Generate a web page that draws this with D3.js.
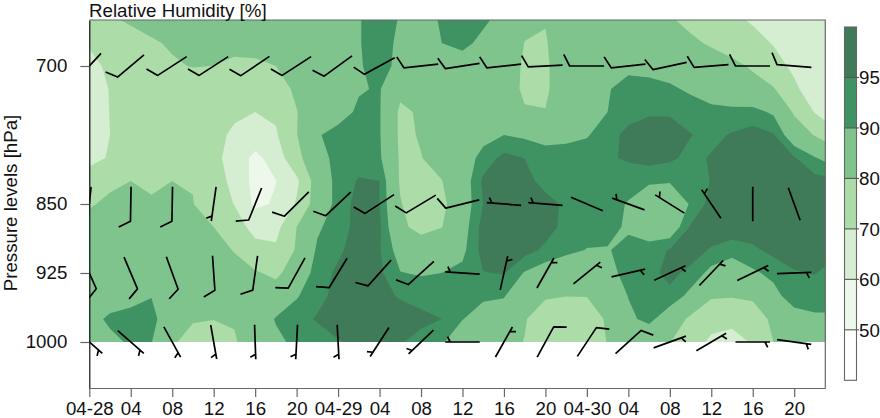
<!DOCTYPE html>
<html><head><meta charset="utf-8">
<script src="https://cdnjs.cloudflare.com/ajax/libs/d3/7.8.5/d3.min.js"></script>
<style>html,body{margin:0;padding:0;background:#fff;overflow:hidden}svg{display:block}text{font-family:"Liberation Sans",Arial,sans-serif;fill:#111}</style>
</head><body><svg id="c" width="880" height="418"></svg>
<script>
// Grid of relative humidity: one row per pressure level, one column per 2 h
const gridHours = d3.range(0, 74, 2);
const gridLevels = d3.range(650, 1025, 25);
const rh650 = [76,79,81,83,84,85,85,85,85,85,85,86,87,89.6,93,89.5,88,90.5,93,91,88,81,80.3,85,85,84,83,82,80.8,78,75,72,69,67,66,65,64];
const rh675 = [71,74,77,79,81,82,83,83,83,84,84,85,87,89.6,93,88.5,88,90,91.5,88.5,84,79.9,79.5,84,85,85,85,84,83,81.5,79,76.5,73,69.5,66,64,63];
const rh700 = [67,72,75,77,79,80.4,79.9,78,78.5,80,82,84,87,89.5,92,88.5,87,87,87,86,84,79,79,84,87,88.5,89,88,87,85,84,82,79,73.5,68,64,62];
const rh725 = [64,70.5,72,73,74,74,74,74,75,77.5,81,84,87,89.5,90.5,82,85.5,85.5,85,84,83,79,79,84,88,89.7,91.5,92,91,89,87,85,83,80.7,72,64,62];
const rh750 = [63,70.3,71,71,71,70.7,70.7,70.3,70,71.5,79.8,84,87.5,91,90.5,78.5,81,84,85,84,83,80.5,80.2,85,88,90,93,94.5,94.5,93,91.5,91.5,92,89,79,69.5,62];
const rh775 = [64,70,71,71,71,71,70.5,69.7,67,69,79.7,89.5,92,92.5,90.5,78.5,80.5,84,86,88,90,89,87.5,88.5,89.5,93,96.5,97,97,95.2,93.5,95.5,97,95.5,85,79.5,73];
const rh800 = [66.5,71,72,73,73.5,73,72,67,57,65,77,88,91.5,92.5,91,79,79.8,83,86.5,92,96.5,94.9,93,92.5,93,94,96,97,96,93.5,95.5,97,97.5,97,95.5,90.5,86];
const rh825 = [76,78,80,78.5,80,79.7,75,67,57,59.8,68,85,92,95.5,95,79,76,79.8,86,96,98,97,93,91.5,91,91,91,91,90.5,91,95.3,97,98,98,98,97,96];
const rh850 = [79,82,84,81,80.8,80.2,75,69.7,58,61,71,85,92,97,95,80.5,75,78,86,95,98,98,97,94,92.5,91,89.8,85,85,90.5,97,98,98.5,98.5,98.5,98,97];
const rh875 = [84,85,85,85,84,83,80,74,67,67,80,89,93,96.5,96,82,77,79.8,87,97,98,98,97,93.5,92,91,89.5,85,85,95.5,98,98,98,98,98,98,97];
const rh900 = [86,86,86,85.5,85,84,82,79.7,73,71.5,81,91,94,97.5,95.5,87,86,86,88.5,97,98.5,97,94,91.5,89.8,89.8,91,93,95.3,97,94.5,92.5,94,96.5,98,97.5,96];
const rh925 = [85,85,85.5,85.5,85,85,84,82,81,78,85,92.5,96,97.5,96,90.2,89.5,90,91.5,94.8,95.3,89.5,86.5,85,85,88,92,94,96,94,88,85,89,91.5,94.5,95.2,93];
const rh950 = [84,85.5,87,89.8,88,85.5,84,83,83,85,89.5,93.5,96.5,97,96.5,94.5,93,92.5,92,91,90.5,83,80.8,80.1,80.2,84,90.2,94,94,88,81,80.6,81.5,88,93,93,93];
const rh975 = [87,91.5,93,92,85,80.7,80.2,80.6,85,90.5,93,95.5,97,98,98,97.5,96.5,95,90.2,87,85.5,80.5,76,74,76,81,88.5,92,85,78.5,73,73,75,82,87,88.8,88.8];
const rh1000 = [85,88,91,90.2,81,77,75,79.3,84,88.5,91.5,92.5,94.7,96,96,95.5,93,90.7,86,84,82,79.8,72,71,72,80.5,84,83,80.3,74,68.5,66,71,80,83,85,85];
const rhRows = [rh650,rh675,rh700,rh725,rh750,rh775,rh800,rh825,rh850,rh875,rh900,rh925,rh950,rh975,rh1000];

const breaks = [50,60,70,80,90,95];
const bandColors = ["#ffffff","#edf7ea","#d5edd0","#acdda9","#7ec48c","#3f9261","#3f7b58"];
const barLabels = ["50","60","70","80","90","95"];

// Wind barbs: bearing the wind comes from (deg) and speed class per 4 h station
const windHours = d3.range(0, 72, 4);
const windLevels = [700,850,925,1000];
const dir700 = [223,230,237,237,236,237,234,241,264,261,264,267,270,264,258,265.5,270,274.5];
const spd700 = [10,10,10,10,10,10,10,10,10,10,10,10,10,10,10,10,10,10];
const dir850 = [186,181,181,188,202,225,227,237,239,256,274.5,274.5,293,290,302,326,360,340];
const spd850 = [10,10,10,5,10,10,10,10,10,10,5,5,0,5,5,5,0,0];
const dir925 = [156,157,160,176,188,209,211.5,222,228,274,12.5,29.4,51,77,65,43.6,64,88];
const spd925 = [10,10,10,10,10,10,10,10,10,5,5,5,5,5,5,5,5,5];
const dir1000 = [131,131,151,170,178,183,177,213,226,270,29.5,28.6,33.5,48,70,59.5,90,98];
const spd1000 = [5,5,5,5,5,5,5,5,5,5,5,10,10,10,5,5,5,5];
const windDirs = [dir700,dir850,dir925,dir1000];
const windSpds = [spd700,spd850,spd925,spd1000];

const timeTicks = d3.range(0, 72, 4);
const timeLabels = ["04-28","04","08","12","16","20","04-29","04","08","12","16","20","04-30","04","08","12","16","20"];
const pressureTicks = [700,850,925,1000];
const titleText = "Relative Humidity [%]";
const yTitle = "Pressure levels [hPa]";

const svg = d3.select("#c");
const x = d3.scaleLinear([0,71],[89.3,825.3]);
const y = d3.scaleLinear([650,1050],[20,388]);
const defs = svg.append("defs");
defs.append("clipPath").attr("id","fieldClip").append("rect")
  .attr("x",x(0)).attr("y",y(650)).attr("width",x(71)-x(0)).attr("height",y(1000)-y(650));
defs.append("clipPath").attr("id","plotClip").append("rect")
  .attr("x",x(0)).attr("y",y(650)).attr("width",x(71)-x(0)).attr("height",y(1050)-y(650));

// Filled contours
const flat = rhRows.flat();
const contours = d3.contours().size([gridHours.length,gridLevels.length]).thresholds(breaks)(flat);
const proj = d3.geoTransform({point(px,py){ this.stream.point(x((px-0.5)*2), y(650+(py-0.5)*25)); }});
const path = d3.geoPath(proj);
svg.append("g").attr("clip-path","url(#fieldClip)").selectAll("path").data(contours).join("path")
  .attr("d",path)
  .attr("fill",d=>bandColors[breaks.indexOf(d.value)+1]);

// Barbs
const staff=34.5, full=13, half=6, halfOff=5;
const barbs = svg.append("g").attr("clip-path","url(#plotClip)")
  .attr("stroke","#000").attr("stroke-width",1.7).attr("fill","none");
windLevels.forEach((p,li)=>windHours.forEach((t,k)=>{
  const b = windDirs[li][k]*Math.PI/180, s = windSpds[li][k];
  const vx=Math.sin(b), vy=-Math.cos(b), cx=x(t), cy=y(p);
  const fx=cx+vx*staff/2, fy=cy+vy*staff/2, ex=cx-vx*staff/2, ey=cy-vy*staff/2;
  const a = Math.atan2(-vy,-vx) - 117*Math.PI/180;
  let d = d3.line()([[ex,ey],[fx,fy]]);
  if(s>=10){ d = d3.line()([[ex,ey],[fx,fy],[fx+full*Math.cos(a),fy+full*Math.sin(a)]]); }
  else if(s>=5){ const hx=fx-vx*halfOff, hy=fy-vy*halfOff;
    d += d3.line()([[hx,hy],[hx+half*Math.cos(a),hy+half*Math.sin(a)]]); }
  barbs.append("path").attr("d",d).attr("stroke-linejoin","round");
}));

// Axes
const axisCol="#666", fs=18.7;
const gl = svg.append("g").attr("transform",`translate(${x(0)},0)`)
  .call(d3.axisLeft(y).tickValues(pressureTicks).tickSize(9).tickSizeOuter(0).tickPadding(13).tickFormat(d3.format("d")));
gl.selectAll("text").attr("font-size",fs).attr("fill","#111");
gl.selectAll(".tick line").attr("stroke",axisCol).attr("stroke-width",1.2);
gl.select(".domain").attr("stroke","#111").attr("stroke-width",1.2);
const gb = svg.append("g").attr("transform",`translate(0,${y(1050)})`)
  .call(d3.axisBottom(x).tickValues(timeTicks).tickSize(9).tickSizeOuter(0).tickPadding(5).tickFormat((d,i)=>timeLabels[i]));
gb.selectAll("text").attr("font-size",fs).attr("fill","#111");
gb.selectAll(".tick line").attr("stroke",axisCol).attr("stroke-width",1.2);
gb.select(".domain").attr("stroke",axisCol).attr("stroke-width",1.2);
svg.append("path").attr("d",d3.line()([[x(0),y(650)],[x(71),y(650)],[x(71),y(1050)]]))
  .attr("fill","none").attr("stroke",axisCol).attr("stroke-width",1.2);

svg.append("text").attr("x",89).attr("y",17).attr("font-size",fs).text(titleText);
svg.append("text").attr("transform",`translate(17,203) rotate(-90)`).attr("text-anchor","middle")
  .attr("font-size",fs).text(yTitle);

// Colour bar
const barTop=27, barBottom=380.3, barX=844.5, barW=12;
const barY = d3.scaleBand().domain(d3.range(bandColors.length).reverse()).range([barTop,barBottom]);
const cb = svg.append("g");
cb.selectAll("rect").data(d3.range(bandColors.length)).join("rect")
  .attr("x",barX).attr("width",barW).attr("y",d=>barY(d)).attr("height",barY.bandwidth()).attr("fill",d=>bandColors[d]);
cb.append("rect").attr("x",barX).attr("y",barTop).attr("width",barW).attr("height",barBottom-barTop)
  .attr("fill","none").attr("stroke",axisCol).attr("stroke-width",1.1);
barLabels.forEach((l,i)=>{
  const yy = barY(i);
  cb.append("line").attr("x1",barX).attr("x2",859).attr("y1",yy).attr("y2",yy).attr("stroke","#555").attr("stroke-width",1.1);
  cb.append("text").attr("x",859).attr("y",yy).attr("dy","0.36em").attr("font-size",fs).text(l);
});
</script></body></html>
